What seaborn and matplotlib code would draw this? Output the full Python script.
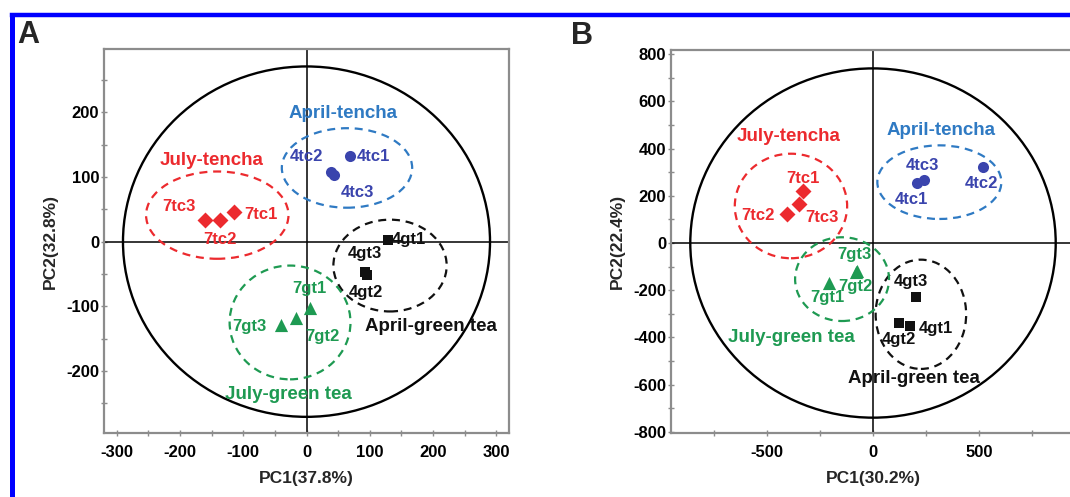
import numpy as np
import pandas as pd
import matplotlib
matplotlib.use("Agg")
import matplotlib.pyplot as plt
import seaborn as sns
from matplotlib.patches import Ellipse
from matplotlib.lines import Line2D
from matplotlib.ticker import MultipleLocator

# ---------------- data ----------------
groups = ["April-tencha", "July-tencha", "April-green tea", "July-green tea"]

# Panel A (PCA scores)
a_names = ["4tc1", "4tc2", "4tc3", "7tc1", "7tc2", "7tc3",
           "4gt1", "4gt2", "4gt3", "7gt1", "7gt2", "7gt3"]
a_group = ["April-tencha"] * 3 + ["July-tencha"] * 3 + ["April-green tea"] * 3 + ["July-green tea"] * 3
a_pc1 = [69, 38, 44, -115, -137, -160, 128, 95, 92, 5, -16, -40]
a_pc2 = [133, 107, 103, 46, 34, 33, 3, -51, -47, -103, -118, -129]
a_lab_x = [105, 0, 80, -72, -137, -202, 162, 94, 92, 4, 25, -90]
a_lab_y = [132, 132, 76, 42, 4, 55, 3, -79, -18, -73, -147, -131]
# group ellipses (center x, center y, width, height) in group order
a_ell_cx = [64, -141, 132, -26]
a_ell_cy = [114, 41, -37, -125]
a_ell_w = [206, 225, 179, 191]
a_ell_h = [123, 135, 142, 176]
a_glab_x = [57, -150, 197, -28]
a_glab_y = [198, 125, -132, -236]
a_circle = (580, 542)  # Hotelling ellipse width, height

# Panel B
b_names = ["4tc1", "4tc2", "4tc3", "7tc1", "7tc2", "7tc3",
           "4gt1", "4gt2", "4gt3", "7gt1", "7gt2", "7gt3"]
b_group = a_group
b_pc1 = [206, 519, 242, -328, -407, -351, 176, 123, 203, -209, -80, -74]
b_pc2 = [254, 322, 265, 220, 123, 166, -352, -338, -228, -169, -122, -117]
b_lab_x = [179, 511, 234, -331, -541, -241, 297, 120, 179, -217, -82, -90]
b_lab_y = [184, 251, 329, 272, 116, 109, -361, -408, -162, -232, -183, -50]
b_ell_cx = [313, -387, 226, -146]
b_ell_cy = [258, 157, -302, -153]
b_ell_w = [585, 530, 427, 443]
b_ell_h = [312, 443, 463, 355]
b_glab_x = [321, -399, 195, -383]
b_glab_y = [478, 450, -573, -401]
b_circle = (1724, 1480)

# ---------------- style ----------------
sns.set_theme(style="white")
plt.rcParams['font.family'] = ['Liberation Sans', 'DejaVu Sans']
plt.rcParams['font.weight'] = 'bold'
plt.rcParams['axes.unicode_minus'] = False

marker_col = {"April-tencha": "#3a44ad", "July-tencha": "#ec2a2e",
              "April-green tea": "#111111", "July-green tea": "#1e9a52"}
group_col = {"April-tencha": "#2f7ac3", "July-tencha": "#ec2a2e",
             "April-green tea": "#111111", "July-green tea": "#1e9a52"}
markers = {"April-tencha": "o", "July-tencha": "D",
           "April-green tea": "s", "July-green tea": "^"}
msize = {"April-tencha": 64, "July-tencha": 66,
         "April-green tea": 56, "July-green tea": 90}

W, H = 1070, 497
fig = plt.figure(figsize=(W / 100, H / 100), dpi=100)
fig.patch.set_facecolor("white")

spine_col = "#8c8c8c"


def panel(rect, names, grp, pc1, pc2, lx, ly, ecx, ecy, ew, eh, glx, gly,
          circle, xlim, ylim, xmaj, xmin, ymaj, ymin, xlabel, ylabel):
    ax = fig.add_axes(rect)
    df = pd.DataFrame({"PC1": pc1, "PC2": pc2, "group": grp, "name": names})
    ax.add_patch(Ellipse((0, 0), circle[0], circle[1], fill=False,
                         ec="black", lw=1.7, zorder=2))
    ax.axhline(0, color="black", lw=1.1, zorder=1)
    ax.axvline(0, color="black", lw=1.1, zorder=1)
    for i, g in enumerate(groups):
        ax.add_patch(Ellipse((ecx[i], ecy[i]), ew[i], eh[i], fill=False,
                             ec=group_col[g], lw=1.6, ls=(0, (3.6, 2.6)), zorder=3))
        sub = df[df.group == g]
        sns.scatterplot(data=sub, x="PC1", y="PC2", color=marker_col[g],
                        marker=markers[g], s=msize[g], linewidth=0,
                        ax=ax, legend=False, zorder=5)
        ax.text(glx[i], gly[i], g, color=group_col[g], fontsize=13.5,
                fontweight="bold", ha="center", va="center", zorder=6)
    for n, g, x, y in zip(names, grp, lx, ly):
        ax.text(x, y, n, color=marker_col[g], fontsize=12, fontweight="bold",
                ha="center", va="center", zorder=6)
    ax.set_xlim(*xlim)
    ax.set_ylim(*ylim)
    ax.xaxis.set_major_locator(MultipleLocator(xmaj))
    ax.xaxis.set_minor_locator(MultipleLocator(xmin))
    ax.yaxis.set_major_locator(MultipleLocator(ymaj))
    ax.yaxis.set_minor_locator(MultipleLocator(ymin))
    for s in ax.spines.values():
        s.set_color(spine_col)
        s.set_linewidth(1.6)
    ax.tick_params(which="both", direction="inout", length=5, width=1,
                   color=spine_col, labelsize=12, labelcolor="black",
                   bottom=True, left=True, top=False, right=False)
    ax.tick_params(axis="x", which="major", pad=6)
    ax.tick_params(axis="y", which="major", pad=1)
    for lab in ax.get_xticklabels() + ax.get_yticklabels():
        lab.set_fontweight("bold")
    ax.set_xlabel(xlabel, fontsize=12.5, fontweight="bold", labelpad=8)
    ax.set_ylabel(ylabel, fontsize=12.5, fontweight="bold", labelpad=6)
    return ax


def frac(l, r, t, b):
    return [l / W, 1 - b / H, (r - l) / W, (b - t) / H]


axA = panel(frac(104, 509, 49, 433), a_names, a_group, a_pc1, a_pc2, a_lab_x, a_lab_y,
            a_ell_cx, a_ell_cy, a_ell_w, a_ell_h, a_glab_x, a_glab_y, a_circle,
            (-320, 320), (-296, 298), 100, 50, 100, 50, "PC1(37.8%)", "PC2(32.8%)")
axB = panel(frac(671, 1075, 50, 433), b_names, b_group, b_pc1, b_pc2, b_lab_x, b_lab_y,
            b_ell_cx, b_ell_cy, b_ell_w, b_ell_h, b_glab_x, b_glab_y, b_circle,
            (-953, 953), (-805, 818), 500, 250, 200, 100, "PC1(30.2%)", "PC2(22.4%)")

# panel letters
fig.text(17 / W, 1 - 43 / H, "A", fontsize=22, fontweight="bold", ha="left", va="baseline")
fig.text(571 / W, 1 - 44 / H, "B", fontsize=22, fontweight="bold", ha="left", va="baseline")

# blue frame
fig.add_artist(Line2D([11.5 / W, 1.01], [1 - 15 / H, 1 - 15 / H], color="#0000ff",
                      lw=3.2, transform=fig.transFigure, solid_capstyle="projecting"))
fig.add_artist(Line2D([11.5 / W, 11.5 / W], [-0.01, 1 - 15 / H], color="#0000ff",
                      lw=3.6, transform=fig.transFigure, solid_capstyle="projecting"))

fig.savefig("out.png", dpi=100, facecolor="white")
